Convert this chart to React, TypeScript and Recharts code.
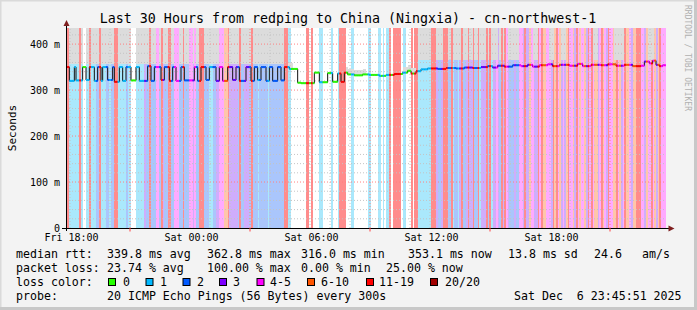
import React from "react";
import { ComposedChart, Bar, Line, XAxis, YAxis, ReferenceLine, Cell } from "recharts";

// ---- data (one column per 5-minute step, 360 steps = 30 hours) ----
const LOSS_CLASS: string = [
  "bb111111b1", "0011b11122", "b11122122b", "b111112110", "0011111322",
  "b222442b32", "2bb2244422", "b222443422", "bbb2221122", "3344466b33",
  "3332b22333", "2b22212222", "2122222222", "2bb1100000", "0000bb0b00",
  "0011000001", "0001bbbb00", "0110000000", "0110000110", "1011b0bbbb",
  "b011000b0b", "b11111111b", "bb3223bbb2", "2b12213b22", "3b33b22b13",
  "33b2b13343", "2b3b432223", "22443b3364", "433b4b6644", "43b6b46343",
  "6b4463b464", "463b4b4663", "4b643b4466", "b4634b6643", "66bbb44364",
  "4b4636b444",
].join("");

const SMOKE: string = [
  "..GGGGGG.G", "..GG.GGGGG", ".GGGGGGGG.", ".GGGGGGGG.", "..GGGGGGGG",
  ".GGG..G.GG", "G..GG...GG", ".GGG..G.GG", "...GGGGGGG", "GG......GG",
  "GGGG.GGGGG", "G.GGGGGGGG", "GGGGGGGGGG", "G..sss....", "..........",
  "..........", "........ss", "ssssssssss", "..........", "..........",
  "..ssssssss", ".HHHHHHHH.", "..HHHH...H", "H.HHHHH.HH", "H.HH.HH.HH",
  "HH.H.HHHH.", "H.H..HHHHH", "HH........", "HHH.......", "HHH....HHH",
  "..........", "......HHH.", ".........H", "HHHHH.....", ".........H",
  "HHH.......",
].join("");

// median rtt in ms, as [value, number of steps]
const MEDIAN_RUNS: [number, number][] = [
  [350, 2], [320, 3], [350, 1], [321, 4], [350, 2], [322, 2], [350, 3], [320, 2], [350, 2], [320, 1],
  [350, 3], [322, 3], [350, 1], [318, 3], [350, 2], [320, 2], [350, 3], [321, 3], [350, 2], [320, 5],
  [352, 2], [320, 2], [350, 4], [322, 2], [350, 3], [320, 2], [350, 2], [320, 3], [350, 2], [321, 6],
  [350, 2], [320, 2], [350, 3], [322, 2], [350, 4], [320, 2], [350, 2], [320, 3], [350, 3], [322, 2],
  [350, 2], [320, 4], [350, 3], [320, 2], [350, 2], [322, 2], [350, 3], [320, 2], [350, 2], [320, 3],
  [350, 2], [321, 2], [350, 3],
  [346, 5], [316, 2], [315, 8], [338, 3], [317, 5], [337, 3], [318, 3], [336, 2], [318, 2], [338, 2],
  [334, 4], [332, 5], [334, 4], [333, 6], [331, 4], [333, 5], [335, 5], [338, 3], [342, 2], [336, 3], [341, 3],
  [345, 4], [347, 6], [346, 5], [348, 6], [347, 5], [349, 5], [348, 5],
  [350, 4], [352, 3], [349, 3], [353, 4], [351, 5], [354, 5],
  [352, 4], [355, 3], [351, 4], [354, 5], [356, 3], [352, 4], [355, 6], [353, 5], [357, 3], [352, 5],
  [355, 6], [354, 4], [356, 5], [353, 5], [355, 5], [352, 5],
  [353, 2], [362, 3], [358, 2], [364, 2], [355, 2], [352, 2], [354, 2],
];

const Y_MAX = 435;
const Y_TICKS = [0, 100, 200, 300, 400];
const X_TICK_STEPS = [2.4, 74.4, 146.4, 218.4, 290.4];
const X_TICK_LABELS = ["Fri 18:00", "Sat 00:00", "Sat 06:00", "Sat 12:00", "Sat 18:00"];
const MAJOR_V_STEPS = [38.4, 110.4, 182.4, 254.4, 326.4];
const SMOKE_LOW: Record<string, number> = { G: 357, H: 365 };

const BAND_COLORS: Record<string, string> = {
  "0": "#ffffff", "1": "#aae8fc", "2": "#aac6fc", "3": "#cfadfc",
  "4": "#ffaaff", "6": "#ffc6aa", "b": "#ff8c8c", "t": "#e07070",
};
const LINE_COLORS: Record<string, string> = {
  "0": "#26ff00", "1": "#00b8ff", "2": "#0059ff", "3": "#5e00ff",
  "4": "#ff00ff", "6": "#ff5500", "b": "#ff0000", "t": "#a10000",
};
const LEGEND_BOXES: [string, string][] = [
  ["#26ff00", "0"], ["#00b8ff", "1"], ["#0059ff", "2"], ["#7e00ff", "3"],
  ["#ff00ff", "4-5"], ["#ff5500", "6-10"], ["#ff0000", "11-19"], ["#a10000", "20/20"],
];

const MEDIANS: number[] = MEDIAN_RUNS.flatMap(([v, n]) => Array(n).fill(v)).slice(0, 360);

const data = MEDIANS.map((med, i) => {
  const cls = LOSS_CLASS[i] || "0";
  const sm = SMOKE[i] || ".";
  let lo = Y_MAX;
  let hi = Y_MAX;
  if (SMOKE_LOW[sm]) {
    lo = SMOKE_LOW[sm];
  } else if (sm === "s") {
    lo = med;
    hi = med + 12;
  }
  return { x: i + 0.5, b1: lo, g: hi - lo, b2: Y_MAX - hi, median: med, cls };
});

const FONT = "'DejaVu Sans Mono', monospace";
const hourSteps: number[] = [];
for (let s = 2.4; s < 360; s += 12) hourSteps.push(s);
const gridY: number[] = [];
for (let v = 20; v < Y_MAX; v += 20) gridY.push(v);

const MedianDot = (props: any) => {
  const { cx, cy, payload } = props;
  if (cx == null || cy == null) return null;
  return (
    <line x1={cx - 0.9} x2={cx + 0.9} y1={cy} y2={cy}
      stroke={LINE_COLORS[payload.cls]} strokeWidth={2} />
  );
};

export default function App() {
  const barSize = 600 / 360;
  const legendBoxX = [108.5, 146, 183, 219.5, 257, 307.5, 366.5, 430.5];
  const legendLabelX = [123, 160, 197, 233, 270, 321, 379, 445];
  return (
    <div style={{ position: "absolute", left: 0, top: 0, width: 697, height: 310, background: "#f3f3f3" }}>
      <ComposedChart width={697} height={310} data={data}
        margin={{ top: 28, right: 31, bottom: 52, left: 6 }}
        barCategoryGap={0} barGap={0}>
        <XAxis dataKey="x" type="number" domain={[0, 360]} ticks={X_TICK_STEPS}
          tickFormatter={(v: number) => X_TICK_LABELS[X_TICK_STEPS.indexOf(v)] ?? ""}
          axisLine={false} tickLine={false} tickSize={6} tickMargin={0} height={30}
          tick={{ fontFamily: FONT, fontSize: 10, fill: "#000", dx: 1.5 }}
          interval={0} allowDataOverflow />
        <YAxis type="number" domain={[0, Y_MAX]} ticks={Y_TICKS} width={60}
          tickFormatter={(v: number) => (v === 0 ? "0" : `${v} m`)}
          axisLine={false} tickLine={false} tickSize={4} tickMargin={2}
          tick={{ fontFamily: FONT, fontSize: 10, fill: "#000" }}
          interval={0} allowDataOverflow />
        <Bar dataKey="b1" stackId="s" barSize={barSize} isAnimationActive={false} style={{ shapeRendering: "crispEdges" }}>
          {data.map((d, i) => <Cell key={i} fill={BAND_COLORS[d.cls]} />)}
        </Bar>
        <Bar dataKey="g" stackId="s" barSize={barSize} isAnimationActive={false} fill="#dcdcdc" style={{ shapeRendering: "crispEdges" }} />
        <Bar dataKey="b2" stackId="s" barSize={barSize} isAnimationActive={false} style={{ shapeRendering: "crispEdges" }}>
          {data.map((d, i) => <Cell key={i} fill={BAND_COLORS[d.cls]} />)}
        </Bar>
        {gridY.map((v) => (
          <ReferenceLine key={"h" + v} y={v} stroke={v % 100 === 0 ? "#ff8080" : "#c4c4c4"}
            strokeDasharray="1 2" ifOverflow="visible" />
        ))}
        {hourSteps.map((s) => (
          <ReferenceLine key={"v" + s} x={s}
            stroke={MAJOR_V_STEPS.some((m) => Math.abs(m - s) < 0.01) ? "#ff8080" : "#c4c4c4"}
            strokeDasharray="1 2" ifOverflow="visible" />
        ))}
        <Line dataKey="median" type="step" stroke="#111" strokeWidth={1}
          dot={<MedianDot />} activeDot={false} isAnimationActive={false} />
      </ComposedChart>
      <svg width={697} height={310} style={{ position: "absolute", left: 0, top: 0, pointerEvents: "none" }}>
        <rect x={0} y={0} width={697} height={1.5} fill="#dadada" />
        <rect x={0} y={0} width={1.5} height={310} fill="#dadada" />
        <rect x={694} y={0} width={3} height={310} fill="#c8c8c8" />
        <rect x={0} y={307} width={697} height={3} fill="#c8c8c8" />
        {/* axes */}
        <line x1={62} x2={669} y1={228.5} y2={228.5} stroke="#000" strokeWidth={1} />
        <line x1={66.5} x2={66.5} y1={231} y2={25} stroke="#000" strokeWidth={1} />
        <polygon points="63.5,26 69.5,26 66.5,20" fill="#7f1f1f" />
        <polygon points="668.5,225.5 668.5,231.5 674.5,228.5" fill="#7f1f1f" />
        {MAJOR_V_STEPS.map((s) => (
          <line key={s} x1={66 + s * (600 / 360)} x2={66 + s * (600 / 360)} y1={228} y2={231.5} stroke="#ff4040" strokeWidth={1} />
        ))}
        {/* title */}
        <text x={348} y={23} textAnchor="middle" fontFamily={FONT} fontSize={13.3} fill="#000">
          Last 30 Hours from redping to China (Ningxia) - cn-northwest-1
        </text>
        <text x={0} y={0} transform="translate(16,128) rotate(-90)" textAnchor="middle"
          fontFamily={FONT} fontSize={11} fill="#000">Seconds</text>
        <text x={0} y={0} transform="translate(685,5) rotate(90)" fontFamily={FONT}
          fontSize={8} fill="#b0b0b0">RRDTOOL / TOBI OETIKER</text>
        {/* legend */}
        <g fontFamily={FONT} fontSize={11.6} fill="#000" style={{ whiteSpace: "pre" }}>
          <text x={16} y={258}>median rtt:</text>
          <text x={107} y={258}>339.8 ms avg</text>
          <text x={207} y={258}>362.8 ms max</text>
          <text x={301} y={258}>316.0 ms min</text>
          <text x={408} y={258}>353.1 ms now</text>
          <text x={508} y={258}>13.8 ms sd</text>
          <text x={594} y={258}>24.6</text>
          <text x={642} y={258}>am/s</text>
          <text x={16} y={272}>packet loss:</text>
          <text x={107} y={272}>23.74 % avg</text>
          <text x={207} y={272}>100.00 % max</text>
          <text x={301} y={272}>0.00 % min</text>
          <text x={386} y={272}>25.00 % now</text>
          <text x={16} y={286}>loss color:</text>
          {LEGEND_BOXES.map(([c, l], i) => (
            <g key={l}>
              <rect x={legendBoxX[i]} y={278.5} width={7} height={7} fill={c} stroke="#000" strokeWidth={1} />
              <text x={legendLabelX[i]} y={286}>{l}</text>
            </g>
          ))}
          <text x={16} y={300}>probe:</text>
          <text x={107} y={300}>20 ICMP Echo Pings (56 Bytes) every 300s</text>
          <text x={514} y={300} xmlSpace="preserve">Sat Dec  6 23:45:51 2025</text>
        </g>
      </svg>
    </div>
  );
}
